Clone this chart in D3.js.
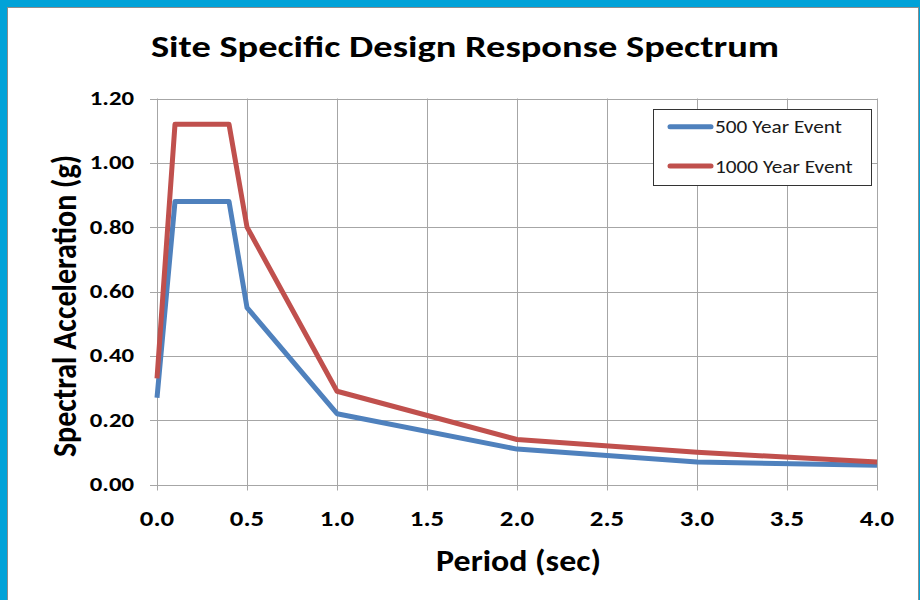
<!DOCTYPE html>
<html>
<head>
<meta charset="utf-8">
<script src="https://cdn.jsdelivr.net/npm/d3@7"></script>
<style>
  html, body { margin: 0; padding: 0; background: #00a2d8; }
  svg { display: block; }
</style>
</head>
<body>
<svg id="chart" width="920" height="600"></svg>
<script>
// Spectrum data: period (sec) vs spectral acceleration (g)
const periods = [0.0, 0.1, 0.4, 0.5, 1.0, 2.0, 3.0, 4.0];
const event500 = [0.27, 0.88, 0.88, 0.55, 0.22, 0.11, 0.07, 0.06];
const event1000 = [0.33, 1.12, 1.12, 0.80, 0.29, 0.14, 0.10, 0.07];
const seriesNames = ["500 Year Event", "1000 Year Event"];
const xTicks = [0, 0.5, 1.0, 1.5, 2.0, 2.5, 3.0, 3.5, 4.0];
const yTicks = [0, 0.2, 0.4, 0.6, 0.8, 1.0, 1.2];

const colors = ["#4f81bd", "#c0504d"];
const font = "Carlito, Calibri, 'Open Sans', sans-serif";

const svg = d3.select("#chart");

// white panel with grey border
svg.append("rect").attr("x", 7.5).attr("y", 7.5).attr("width", 911).attr("height", 600)
  .attr("fill", "#fff").attr("stroke", "#8c8c8c").attr("stroke-width", 1);

const plot = { left: 157, right: 877, top: 98.5, bottom: 484.5 };
const x = d3.scaleLinear().domain([0, 4]).range([plot.left, plot.right]);
const y = d3.scaleLinear().domain([0, 1.2]).range([plot.bottom, plot.top]);

// text drawn with a horizontal stretch factor
function label(parent, px, py, str, size, weight, sx, anchor, extra = "") {
  return parent.append("text")
    .attr("transform", `translate(${px},${py}) scale(${sx},1) ${extra}`)
    .attr("text-anchor", anchor)
    .style("font", `${weight} ${size}px ${font}`)
    .attr("fill", "#000")
    .text(str);
}

// vertical gridlines with tick marks below axis
svg.append("g").selectAll("line").data(xTicks).join("line")
  .attr("x1", d => Math.round(x(d)) + 0.5).attr("x2", d => Math.round(x(d)) + 0.5)
  .attr("y1", plot.top).attr("y2", plot.bottom + 6)
  .attr("stroke", "#a6a6a6").attr("stroke-width", 1);

// horizontal gridlines with tick marks left of axis
svg.append("g").selectAll("line").data(yTicks).join("line")
  .attr("x1", plot.left - 7).attr("x2", plot.right)
  .attr("y1", d => Math.round(y(d)) + 0.5).attr("y2", d => Math.round(y(d)) + 0.5)
  .attr("stroke", "#a6a6a6").attr("stroke-width", 1);

// tick labels
const yLab = svg.append("g");
yTicks.forEach(d => label(yLab, 134, y(d) + 6.5, d3.format(".2f")(d), 21, "bold", 1.18, "end"));
const xLab = svg.append("g");
xTicks.forEach(d => label(xLab, x(d), 526, d3.format(".1f")(d), 22, "bold", 1.22, "middle"));

// series lines
const line = d3.line().x((d, i) => x(periods[i])).y(d => y(d));
[event500, event1000].forEach((vals, k) => {
  svg.append("path").datum(vals)
    .attr("d", line)
    .attr("fill", "none")
    .attr("stroke", colors[k])
    .attr("stroke-width", 5)
    .attr("stroke-linejoin", "round");
});

// title and axis labels
label(svg, 465, 57, "Site Specific Design Response Spectrum", 31, "bold", 1.24, "middle");
label(svg, 518.5, 571, "Period (sec)", 30, "bold", 1.13, "middle");
label(svg, 76, 306, "Spectral Acceleration (g)", 30, "bold", 1.15, "middle", "rotate(-90)");

// legend
const lg = svg.append("g");
lg.append("rect").attr("x", 653.5).attr("y", 109.5).attr("width", 218).attr("height", 76)
  .attr("fill", "#fff").attr("stroke", "#333").attr("stroke-width", 1);
seriesNames.forEach((name, i) => {
  const ly = 126.7 + i * 39.3;
  lg.append("line").attr("x1", 670).attr("x2", 711).attr("y1", ly).attr("y2", ly)
    .attr("stroke", colors[i]).attr("stroke-width", 5).attr("stroke-linecap", "round");
  label(lg, 715, ly + 6.5, name, 19, "normal", 1.12, "start").attr("fill", "#1a1a1a");
});
</script>
</body>
</html>
